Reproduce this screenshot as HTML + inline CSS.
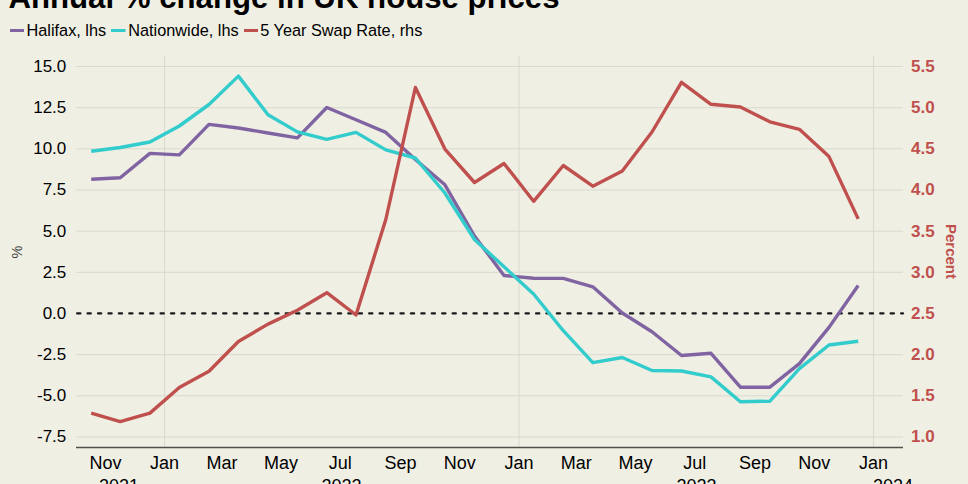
<!DOCTYPE html>
<html><head><meta charset="utf-8"><style>
html,body{margin:0;padding:0;background:#EFEFE4;}
body{width:968px;height:484px;overflow:hidden;}
svg{display:block;font-family:"Liberation Sans",sans-serif;}
.g{stroke:#DAD9CF;stroke-width:1;}
.yl{font-size:17px;fill:#000;text-anchor:end;}
.yr{font-size:17px;font-weight:bold;fill:#C0504D;text-anchor:start;}
.xl{font-size:18px;fill:#000;text-anchor:middle;}
.lg{font-size:16.3px;fill:#000;}
.ln{fill:none;stroke-width:3.4;stroke-linejoin:round;}
</style></head><body>
<svg width="968" height="484" viewBox="0 0 968 484">
<rect width="968" height="484" fill="#EFEFE4"/>
<text x="8.4" y="7.5" style="font-size:31.2px;font-weight:bold;fill:#000">Annual % change in UK house prices</text>
<line x1="10" x2="24" y1="30.5" y2="30.5" stroke="#8064A2" stroke-width="3"/>
<text x="26.5" y="36.4" class="lg">Halifax, lhs</text>
<line x1="111" x2="125.5" y1="30.5" y2="30.5" stroke="#33CCCC" stroke-width="3"/>
<text x="128.2" y="36.4" class="lg">Nationwide, lhs</text>
<line x1="244" x2="258" y1="30.5" y2="30.5" stroke="#C0504D" stroke-width="3"/>
<text x="260.3" y="36.4" class="lg">5 Year Swap Rate, rhs</text>
<line x1="76" x2="903" y1="66.50" y2="66.50" class="g"/>
<line x1="76" x2="903" y1="107.66" y2="107.66" class="g"/>
<line x1="76" x2="903" y1="148.82" y2="148.82" class="g"/>
<line x1="76" x2="903" y1="189.98" y2="189.98" class="g"/>
<line x1="76" x2="903" y1="231.14" y2="231.14" class="g"/>
<line x1="76" x2="903" y1="272.30" y2="272.30" class="g"/>
<line x1="76" x2="903" y1="354.62" y2="354.62" class="g"/>
<line x1="76" x2="903" y1="395.78" y2="395.78" class="g"/>
<line x1="76" x2="903" y1="436.94" y2="436.94" class="g"/>
<line x1="164.6" x2="164.6" y1="56" y2="447" class="g"/>
<line x1="519.0" x2="519.0" y1="56" y2="447" class="g"/>
<line x1="873.5" x2="873.5" y1="56" y2="447" class="g"/>

<line x1="76" x2="903" y1="447.5" y2="447.5" stroke="#50504a" stroke-width="1.4"/>
<line x1="76" x2="903" y1="313.45" y2="313.45" stroke="#1a1a1a" stroke-width="2.3" stroke-linecap="round" stroke-dasharray="3.2 7.23" stroke-dashoffset="-1.15"/>
<polyline class="ln" stroke="#8064A2" points="91.2,179.2 120.2,177.8 149.9,153.4 179.3,154.9 209.0,124.4 238.4,128.0 268.0,133.0 297.4,137.9 326.8,107.5 356.0,119.8 385.8,132.4 415.4,159.5 444.9,184.8 474.5,236.0 504.0,275.5 533.6,278.2 563.3,278.4 592.8,286.8 622.3,313.0 652.0,331.7 681.5,355.5 711.0,353.3 740.4,387.2 769.9,387.2 799.4,363.6 829.0,327.4 858.2,285.5"/>
<polyline class="ln" stroke="#33CCCC" points="91.2,151.3 120.2,147.5 149.9,142.0 179.3,126.0 209.0,104.5 238.4,76.1 268.0,114.8 297.4,131.9 326.8,139.4 356.0,132.4 385.8,149.9 415.4,158.0 444.9,193.0 474.5,239.5 504.0,266.8 533.6,294.0 563.3,330.7 592.8,362.7 622.3,357.5 652.0,370.5 681.5,371.0 711.0,376.9 740.4,401.8 769.9,401.2 799.4,368.6 829.0,345.0 858.2,341.3"/>
<polyline class="ln" stroke="#C0504D" points="91.2,413.1 120.2,421.6 149.9,413.1 179.3,387.5 209.0,371.3 238.4,341.5 268.0,324.1 297.4,310.3 326.8,292.7 356.0,315.0 385.8,219.5 415.4,87.5 444.9,149.1 474.5,182.5 504.0,163.5 533.6,201.3 563.3,165.5 592.8,186.2 622.3,171.0 652.0,132.0 681.5,82.3 711.0,104.3 740.4,107.0 769.9,121.8 799.4,129.3 829.0,156.6 858.2,218.9"/>
<text x="66.3" y="71.9" class="yl">15.0</text>
<text x="911" y="71.9" class="yr">5.5</text>
<text x="66.3" y="113.1" class="yl">12.5</text>
<text x="911" y="113.1" class="yr">5.0</text>
<text x="66.3" y="154.2" class="yl">10.0</text>
<text x="911" y="154.2" class="yr">4.5</text>
<text x="66.3" y="195.4" class="yl">7.5</text>
<text x="911" y="195.4" class="yr">4.0</text>
<text x="66.3" y="236.5" class="yl">5.0</text>
<text x="911" y="236.5" class="yr">3.5</text>
<text x="66.3" y="277.7" class="yl">2.5</text>
<text x="911" y="277.7" class="yr">3.0</text>
<text x="66.3" y="318.9" class="yl">0.0</text>
<text x="911" y="318.9" class="yr">2.5</text>
<text x="66.3" y="360.0" class="yl">-2.5</text>
<text x="911" y="360.0" class="yr">2.0</text>
<text x="66.3" y="401.2" class="yl">-5.0</text>
<text x="911" y="401.2" class="yr">1.5</text>
<text x="66.3" y="442.3" class="yl">-7.5</text>
<text x="911" y="442.3" class="yr">1.0</text>
<text x="105.4" y="468.5" class="xl">Nov</text>
<text x="164.6" y="468.5" class="xl">Jan</text>
<text x="221.9" y="468.5" class="xl">Mar</text>
<text x="281.1" y="468.5" class="xl">May</text>
<text x="340.3" y="468.5" class="xl">Jul</text>
<text x="400.5" y="468.5" class="xl">Sep</text>
<text x="459.8" y="468.5" class="xl">Nov</text>
<text x="519.0" y="468.5" class="xl">Jan</text>
<text x="576.3" y="468.5" class="xl">Mar</text>
<text x="635.5" y="468.5" class="xl">May</text>
<text x="694.7" y="468.5" class="xl">Jul</text>
<text x="754.9" y="468.5" class="xl">Sep</text>
<text x="814.2" y="468.5" class="xl">Nov</text>
<text x="873.4" y="468.5" class="xl">Jan</text>
<text x="119" y="491.5" class="xl">2021</text>
<text x="341.5" y="491.5" class="xl">2022</text>
<text x="696.5" y="491.5" class="xl">2023</text>
<text x="893" y="491.5" class="xl">2024</text>

<text transform="translate(21.5,252) rotate(-90)" style="font-size:14.5px;fill:#404040;text-anchor:middle">%</text>
<text transform="translate(945.5,251.5) rotate(90)" style="font-size:15px;font-weight:bold;fill:#C0504D;text-anchor:middle">Percent</text>
</svg>
</body></html>
